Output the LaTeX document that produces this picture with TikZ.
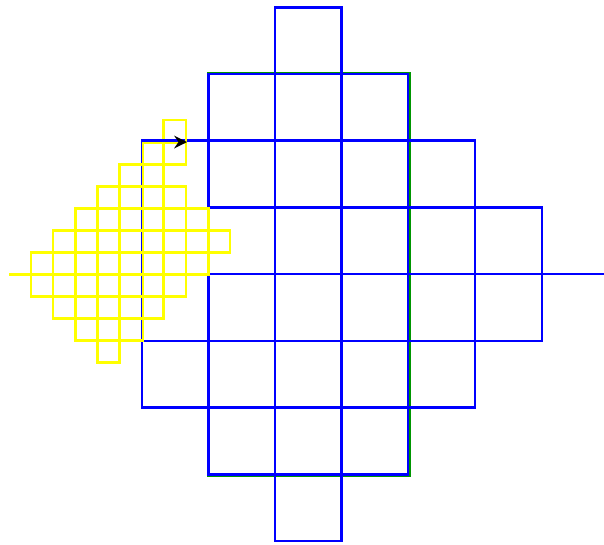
\documentclass[tikz,border=0pt]{standalone}
\definecolor{tblue}{RGB}{0,0,255}
\definecolor{tyellow}{RGB}{255,255,0}
\definecolor{tgreen}{RGB}{0,150,0}
\tikzset{
  blueline/.style={draw=tblue, line width=2.6pt, line cap=rect},
  yellowline/.style={draw=tyellow, line width=2.8pt, line cap=rect},
  greenline/.style={draw=tgreen, line width=2.6pt},
  turtle/.style={fill=black, draw=none}
}
\begin{document}
\begin{tikzpicture}[x=1pt,y=-1pt]
\useasboundingbox (0,0) rectangle (604,544);
% green frame
\draw[greenline] (208.5,73) rectangle (409.8,475.8);
% blue figure
\draw[blueline]
  (275,7.3) -- (341.5,7.3)
  (208.5,74) -- (408,74)
  (142,140.7) -- (475,140.7)
  (208.5,207.4) -- (542,207.4)
  (208.5,274.1) -- (604,274.1)
  (142,340.8) -- (542,340.8)
  (142,407.5) -- (475,407.5)
  (208.5,474.2) -- (408,474.2)
  (275,540.9) -- (341.5,540.9)
  (142,140.7) -- (142,407.5)
  (208.5,74) -- (208.5,474.2)
  (275,7.3) -- (275,540.9)
  (341.5,7.3) -- (341.5,540.9)
  (408,74) -- (408,474.2)
  (475,140.7) -- (475,407.5)
  (542,207.4) -- (542,340.8);
% yellow figure
\draw[yellowline]
  (163.8,120) -- (186,120)
  (143,142.2) -- (186,142.2)
  (119.6,164.3) -- (186,164.3)
  (97.5,186.5) -- (186,186.5)
  (75.3,208.5) -- (208.2,208.5)
  (53,230.7) -- (230,230.7)
  (31,252.8) -- (230,252.8)
  (10,274.5) -- (208.2,274.5)
  (31,296.5) -- (186,296.5)
  (53,318.5) -- (163.8,318.5)
  (75.3,340.5) -- (143,340.5)
  (97.5,362.5) -- (119.6,362.5)
  (31,252.8) -- (31,296.5)
  (53,230.7) -- (53,318.5)
  (75.3,208.5) -- (75.3,340.5)
  (97.5,186.5) -- (97.5,362.5)
  (119.6,164.3) -- (119.6,362.5)
  (143,142.2) -- (143,340.5)
  (163.8,120) -- (163.8,318.5)
  (186,120) -- (186,164.3)
  (186,186.5) -- (186,296.5)
  (208.2,208.5) -- (208.2,274.5)
  (230,230.7) -- (230,252.8);
% last blue stroke and turtle
\coordinate (start) at (142,140.7);
\coordinate (tip) at (187,142);
\draw[blueline] (start) -- (180,140.7);
\fill[turtle] (tip) -- (174,135.5) -- (178.5,142) -- (174,148.5) -- cycle;
\end{tikzpicture}
\end{document}
